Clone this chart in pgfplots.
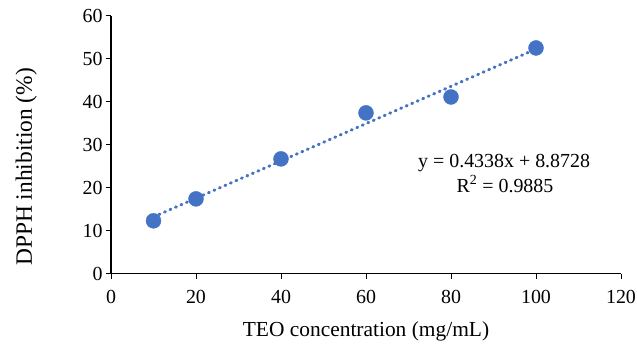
\documentclass[border=0pt]{standalone}
\usepackage{pgfplots}
\pgfplotsset{compat=1.18}
\usepackage{fontspec}
\setmainfont{Liberation Serif}
\definecolor{ptblue}{HTML}{4472C4}
\begin{document}
\begin{tikzpicture}
\begin{axis}[
  scale only axis,
  width=510bp, height=258bp,
  xmin=0, xmax=120, ymin=0, ymax=60,
  xtick={0,20,...,120}, ytick={0,10,...,60},
  axis lines=left,
  axis line style={-, line width=1.2pt},
  tick style={black, line width=1pt},
  tick align=outside,
  major tick length=5bp,
  /pgf/number format/assume math mode=true,
  tick label style={font=\fontsize{20}{24}\selectfont},
  xticklabel style={inner xsep=1bp, yshift=-8.5bp},
  xlabel={TEO concentration (mg/mL)},
  ylabel={DPPH inhibition (\%)},
  xlabel style={font=\fontsize{21.5}{24}\selectfont, at={(axis description cs:0.5,0)}, anchor=base, yshift=-63bp, inner sep=2bp},
  ylabel style={font=\fontsize{23.5}{26}\selectfont, at={(axis description cs:-0.1549,0.414)}, anchor=base, inner sep=2bp},
  clip=false,
]
\addplot[ptblue, line width=3bp, dash pattern=on 1bp off 5bp, line cap=round] coordinates {(10,13.211) (100,52.253)};
\addplot[only marks, mark=*, mark size=7.5bp, mark options={fill=ptblue, draw=ptblue}] coordinates {
(10,12.3) (20,17.4) (40,26.7) (60,37.4) (80,41.1) (100,52.5)};
\node[anchor=base, font=\fontsize{20}{24}\selectfont] at (axis cs:92.5,24.8) {y = 0.4338x + 8.8728};
\node[anchor=base, font=\fontsize{20}{24}\selectfont] at (axis cs:92.7,19.0) {R\textsuperscript{2} = 0.9885};
\path[draw=none] (rel axis cs:0,0) ++(-111bp,-75.3bp) rectangle ++(637bp,349bp);
\end{axis}
\end{tikzpicture}
\end{document}
